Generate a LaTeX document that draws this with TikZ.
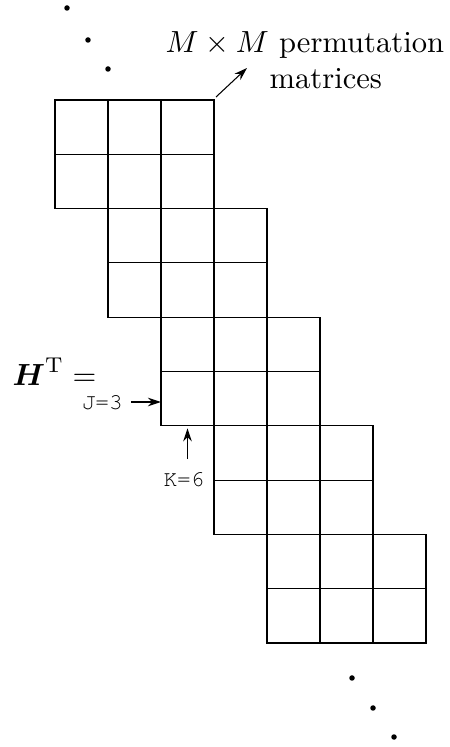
\documentclass[tikz,border=0pt]{standalone}
\usepackage{amsmath,amssymb}
\usepackage[T1,TU]{fontenc}
\usetikzlibrary{arrows.meta,calc}

\begin{document}
\begin{tikzpicture}[
  cell/.style={rectangle,draw,line width=0.6pt,minimum width=1.06cm,minimum height=1.086cm,inner sep=0pt,outer sep=0pt},
  dot/.style={circle,fill,inner sep=0pt,minimum size=1.1mm},
  lbl/.style={inner sep=0pt,font=\normalsize,scale=1.74},
  idx/.style={inner sep=0pt,font=\fontencoding{T1}\fontfamily{pcr}\fontsize{12.9}{15}\selectfont},
  ar/.style={-{Stealth[length=2.6mm,width=1.7mm]},line width=0.6pt}]
\useasboundingbox (0,0) rectangle (9,14.94);
% permutation blocks, 2 rows x 3 columns each
\foreach \b in {0,...,4}
  \foreach \r in {0,1}
    \foreach \c in {0,1,2}
      \node[cell] (c\b\r\c) at ({1.63+1.06*\b+1.06*\c},{12.397-2.172*\b-1.086*\r}) {};
% continuation dots
\node[dot] (d1) at (1.34,14.78) {};
\node[dot] (d2) at (1.76,14.14) {};
\node[dot] (d3) at (2.16,13.56) {};
\node[dot] (d4) at (7.04,1.38) {};
\node[dot] (d5) at (7.46,0.78) {};
\node[dot] (d6) at (7.88,0.20) {};
% labels
\node[lbl,anchor=base west] (perm1) at (3.3,13.88) {$M\times M$ permutation};
\node[lbl,anchor=base west] (perm2) at (5.38,13.16) {matrices};
\coordinate (ptip) at (4.94,13.58);
\draw[ar] ($(c002.north east)+(0.04,0.06)$) -- (ptip);
\node[inner sep=0pt,anchor=base west,font=\normalsize,scale=1.74] (hlbl) at (0.24,7.22) {$\boldsymbol{H}^{\mathrm{T}} =$};
% J and K markers
\node[idx,anchor=east] (jlbl) at (2.46,6.9) {J=3};
\draw[ar] ([xshift=1.6mm]jlbl.east) -- (jlbl.east -| c210.west);
\node[idx] (klbl) at (3.68,5.36) {K=6};
\draw[ar] ([yshift=2.4mm]klbl.north -| c210.south) -- ([yshift=-0.5mm]c210.south);
\end{tikzpicture}
\end{document}
